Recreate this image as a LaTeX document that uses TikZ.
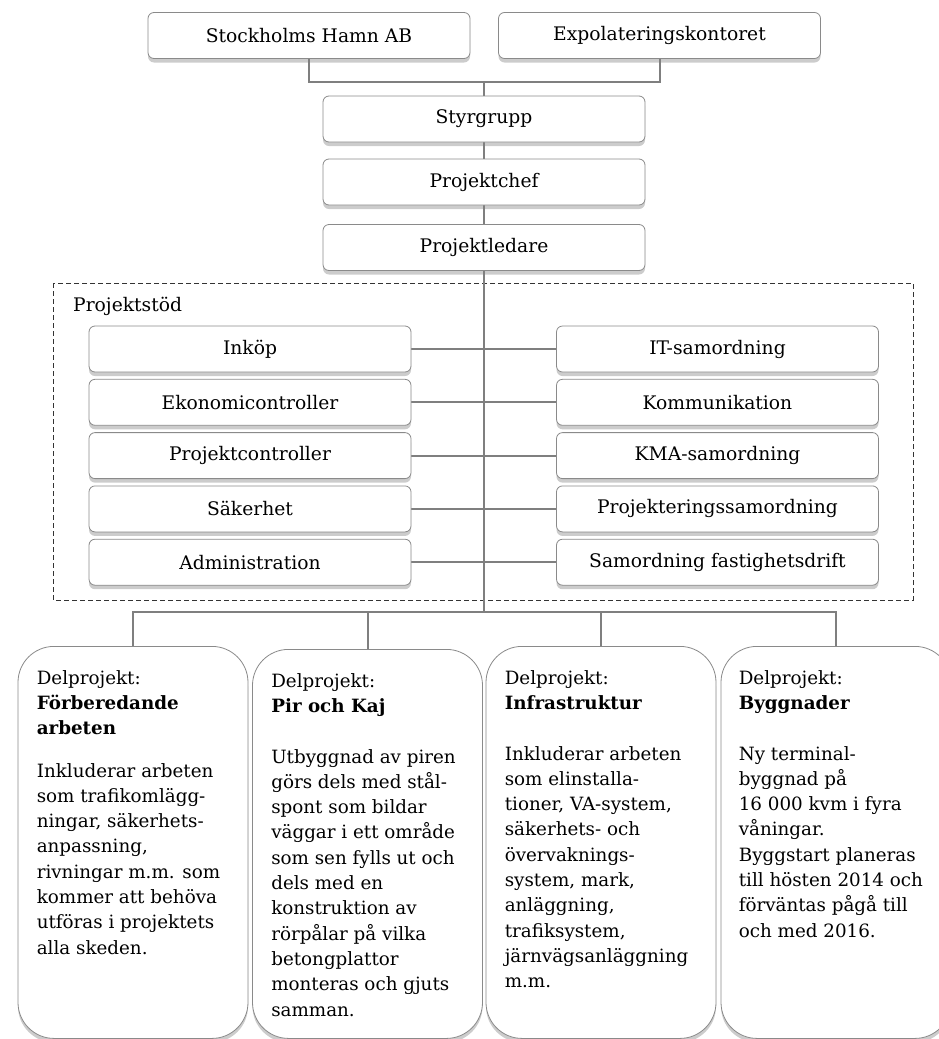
\documentclass[tikz,border=0pt]{standalone}
\usepackage{fontspec}
\setmainfont{DejaVu Serif}
\usetikzlibrary{shadows,backgrounds}

\definecolor{linegray}{HTML}{7F7F7F}
\definecolor{edgegray}{HTML}{8A8A8A}

\tikzset{
  box/.style = {draw=edgegray, line width=0.8pt, fill=white, rounded corners=6pt,
                minimum width=322pt, minimum height=46pt, inner sep=0pt,
                font=\fontsize{18.7}{22}\selectfont,
                drop shadow={shadow xshift=0pt, shadow yshift=-4pt, opacity=.4}},
  delbox/.style = {box, rounded corners=36pt, minimum width=230pt, anchor=north},
  deltext/.style = {anchor=north west, align=left, inner sep=0pt,
                    font=\fontsize{18.3}{25.3}\selectfont},
  conn/.style = {draw=linegray, line width=2pt},
}

\begin{document}
\begin{tikzpicture}[x=1pt, y=-1pt]
\useasboundingbox (0,0) rectangle (938,1039);

% ledning
\node[box] (sha)  at (309,35.5)  {Stockholms Hamn AB};
\node[box] (expo) at (659.5,35.5) {Expolateringskontoret};
\node[box] (sg)   at (484,119)   {Styrgrupp};
\node[box] (pc)   at (484,182)   {Projektchef};
\node[box] (pl)   at (484,247.5) {Projektledare};

% projektstod
\node[anchor=west, inner sep=0pt, font=\fontsize{18.7}{22}\selectfont] (stod) at (73,306) {Projektstöd};
\foreach \ltxt/\rtxt [count=\i] in {Inköp/IT-samordning, Ekonomicontroller/Kommunikation,
    Projektcontroller/KMA-samordning, Säkerhet/Projekteringssamordning,
    Administration/Samordning fastighetsdrift}{
   \node[box] (l\i) at (250, 295.7+53.3*\i) {\ltxt};
   \node[box] (r\i) at (717.5, 295.7+53.3*\i) {\rtxt};
   }

% delprojekt
\node[delbox, minimum height=392pt] (dp1) at (133,646) {};
\node[delbox, minimum height=389pt] (dp2) at (367.5,649) {};
\node[delbox, minimum height=392pt] (dp3) at (601,646) {};
\node[delbox, minimum height=392pt] (dp4) at (836,646) {};

\node[deltext] (dp1txt) at ([xshift=19pt, yshift=-24pt]dp1.north west)
  {Delprojekt:\\ \textbf{Förberedande}\\ \textbf{arbeten}\\[17pt]
   Inkluderar arbeten\\ som trafikomlägg-\\ ningar, säkerhets-\\ anpassning,\\
   rivningar m.m. som\\ kommer att behöva\\ utföras i projektets\\ alla skeden.};
\node[deltext] (dp2txt) at ([xshift=19pt, yshift=-24pt]dp2.north west)
  {Delprojekt:\\ \textbf{Pir och Kaj}\\[25.3pt]
   Utbyggnad av piren\\ görs dels med stål-\\ spont som bildar\\ väggar i ett område\\
   som sen fylls ut och\\ dels med en\\ konstruktion av\\ rörpålar på vilka\\
   betongplattor\\ monteras och gjuts\\ samman.};
\node[deltext] (dp3txt) at ([xshift=19pt, yshift=-24pt]dp3.north west)
  {Delprojekt:\\ \textbf{Infrastruktur}\\[25.3pt]
   Inkluderar arbeten\\ som elinstalla-\\ tioner, VA-system,\\ säkerhets- och\\
   övervaknings-\\ system, mark,\\ anläggning,\\ trafiksystem,\\
   järnvägsanläggning\\ m.m.};
\node[deltext] (dp4txt) at ([xshift=18pt, yshift=-24pt]dp4.north west)
  {Delprojekt:\\ \textbf{Byggnader}\\[25.3pt]
   Ny terminal-\\ byggnad på\\ 16~000 kvm i fyra\\ våningar.\\
   Byggstart planeras\\ till hösten 2014 och\\ förväntas pågå till\\ och med 2016.};

% linjer
\begin{scope}[on background layer]
\draw[dashed, dash pattern=on 5pt off 3pt, line width=0.9pt, black!80] (53,283) rectangle (913,600);
\coordinate (topjoin) at (484,82);
\coordinate (lowjoin) at (484,612);
\draw[conn] (sha.south) |- (topjoin) -| (expo.south);
\draw[conn] (topjoin) -- (sg.north);
\draw[conn] (sg.south) -- (pc.north);
\draw[conn] (pc.south) -- (pl.north);
\draw[conn] (pl.south) -- (lowjoin);
\foreach \i in {1,...,5}
   \draw[conn] (l\i.east) -- (r\i.west);
\draw[conn] (dp1.north) |- (lowjoin) -| (dp4.north);
\draw[conn] (dp2.north) -- (dp2.north |- lowjoin);
\draw[conn] (dp3.north) -- (dp3.north |- lowjoin);
\end{scope}
\end{tikzpicture}
\end{document}
